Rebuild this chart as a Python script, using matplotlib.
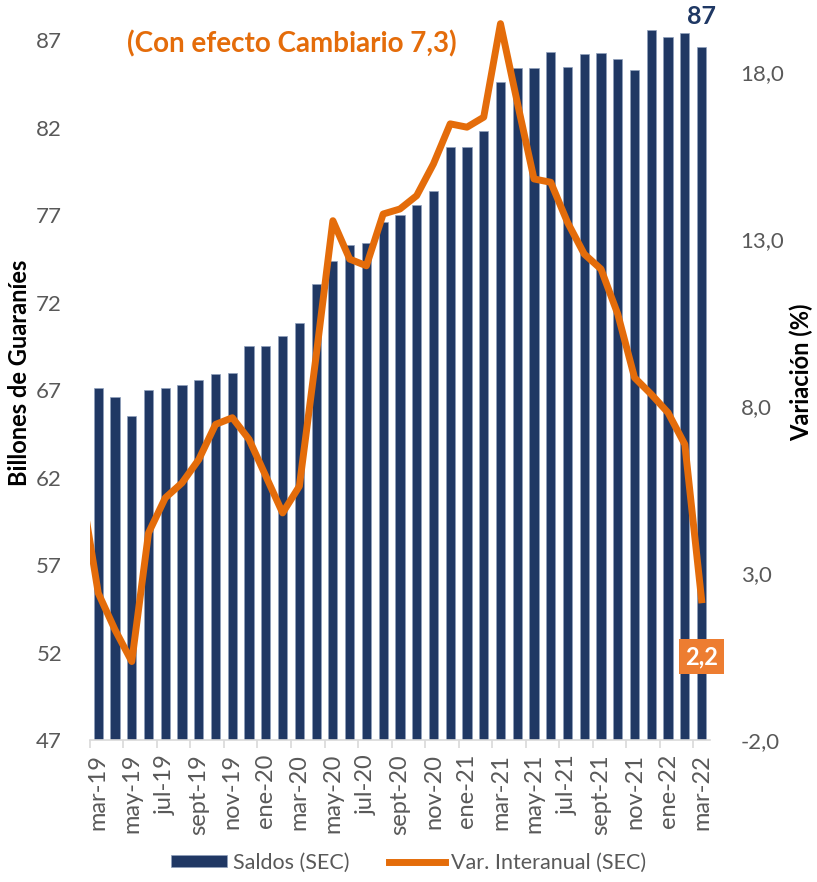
import numpy as np
import matplotlib.pyplot as plt

# months mar-19 .. mar-22
meses = ["mar", "abr", "may", "jun", "jul", "ago", "sept", "oct", "nov", "dic", "ene", "feb"]
categorias = []
anio = 19
for i in range(37):
    m = meses[i % 12]
    if m == "ene":
        anio += 1
    categorias.append(f"{m}-{anio}")

# Saldos (SEC), billones de guaranies
saldos = [67.1, 66.6, 65.5, 67.0, 67.15, 67.3, 67.6, 67.9, 68.0, 69.5,
          69.55, 70.1, 70.85, 73.05, 74.4, 75.3, 75.4, 76.6, 77.0, 77.6,
          78.4, 80.9, 80.9, 81.8, 84.6, 85.4, 85.4, 86.35, 85.5, 86.2,
          86.3, 85.95, 85.3, 87.6, 87.2, 87.4, 86.6]

# Var. interanual (SEC) %, first value is feb-19 (falls just outside the axis)
variacion = [5.5, 2.4, 1.3, 0.35, 4.2, 5.25, 5.7, 6.4, 7.45, 7.65, 7.0,
             5.9, 4.8, 5.6, 9.5, 13.55, 12.4, 12.2, 13.75, 13.9, 14.3,
             15.25, 16.45, 16.35, 16.65, 19.45, 17.1, 14.8, 14.7, 13.5, 12.55,
             12.1, 10.75, 8.85, 8.35, 7.8, 6.85, 2.2]

navy = "#203864"
orange = "#E46C0A"
grey = "#595959"

plt.rcParams["font.family"] = ["Lato", "DejaVu Sans"]

fig = plt.figure(figsize=(8.17, 8.82), dpi=100)
ax = fig.add_axes([0.110, 0.161, 0.759, 0.833])

x = np.arange(len(categorias))
ax.bar(x, saldos, width=0.55, color=navy, edgecolor="#8FA0BC", linewidth=0.5,
       label="Saldos (SEC)", zorder=2)
ax.set_xlim(-0.5, len(categorias) - 0.5)
ax.set_ylim(47, 89)
ax.set_yticks(np.arange(47, 88, 5))
ax.tick_params(axis="y", length=0, labelsize=16, labelcolor=grey, pad=20)

ax.set_xticks(x[::2])
ax.set_xticklabels(categorias[::2], rotation=90)
ax.set_xticks(np.arange(-0.5, len(categorias), 2), minor=True)
ax.tick_params(axis="x", which="major", length=0, labelsize=17, labelcolor=grey, pad=10)
ax.tick_params(axis="x", which="minor", length=6, color="#D9D9D9", width=1.2)

for s in ["top", "left", "right"]:
    ax.spines[s].set_visible(False)
ax.spines["bottom"].set_color("#D9D9D9")
ax.spines["bottom"].set_linewidth(1.2)

ax.set_ylabel("Billones de Guaraníes", fontsize=17, fontweight="bold", labelpad=4)

ax2 = ax.twinx()
ax2.plot(np.arange(-1, len(categorias)), variacion, color=orange, linewidth=5,
         solid_joinstyle="round", label="Var. Interanual (SEC)")
ax2.set_ylim(-2, 20)
ax2.set_yticks(np.arange(-2, 19, 5))
ax2.set_yticklabels([f"{v:.1f}".replace(".", ",") for v in np.arange(-2, 19, 5)])
ax2.tick_params(axis="y", length=0, labelsize=16, labelcolor=grey, pad=22)
for s in ax2.spines.values():
    s.set_visible(False)
ax2.set_ylabel("Variación (%)", fontsize=17, fontweight="bold", labelpad=4)

# annotations
ax.text(x[-1], saldos[-1] + 1.1, f"{round(saldos[-1])}", ha="center", va="bottom",
        fontsize=18, fontweight="bold", color="#1F3864")
ax2.text(x[-1], variacion[-1] - 1.7, f"{variacion[-1]:.1f}".replace(".", ","),
         ha="center", va="center", fontsize=17, fontweight="bold", color="white",
         bbox=dict(boxstyle="square,pad=0.25", fc="#ED7D31", ec="none"))
fig.text(0.357, 0.950, "(Con efecto Cambiario 7,3)", ha="center", va="center",
         fontsize=20, fontweight="bold", color=orange)

h1, l1 = ax.get_legend_handles_labels()
h2, l2 = ax2.get_legend_handles_labels()
fig.legend(h1 + h2, l1 + l2, loc="center", bbox_to_anchor=(0.5, 0.022), ncol=2,
           frameon=False, fontsize=15.5, labelcolor=grey, handlelength=2.6,
           handleheight=0.5, handletextpad=0.3, columnspacing=1.8)

plt.savefig("out.png", dpi=100, facecolor="white")
